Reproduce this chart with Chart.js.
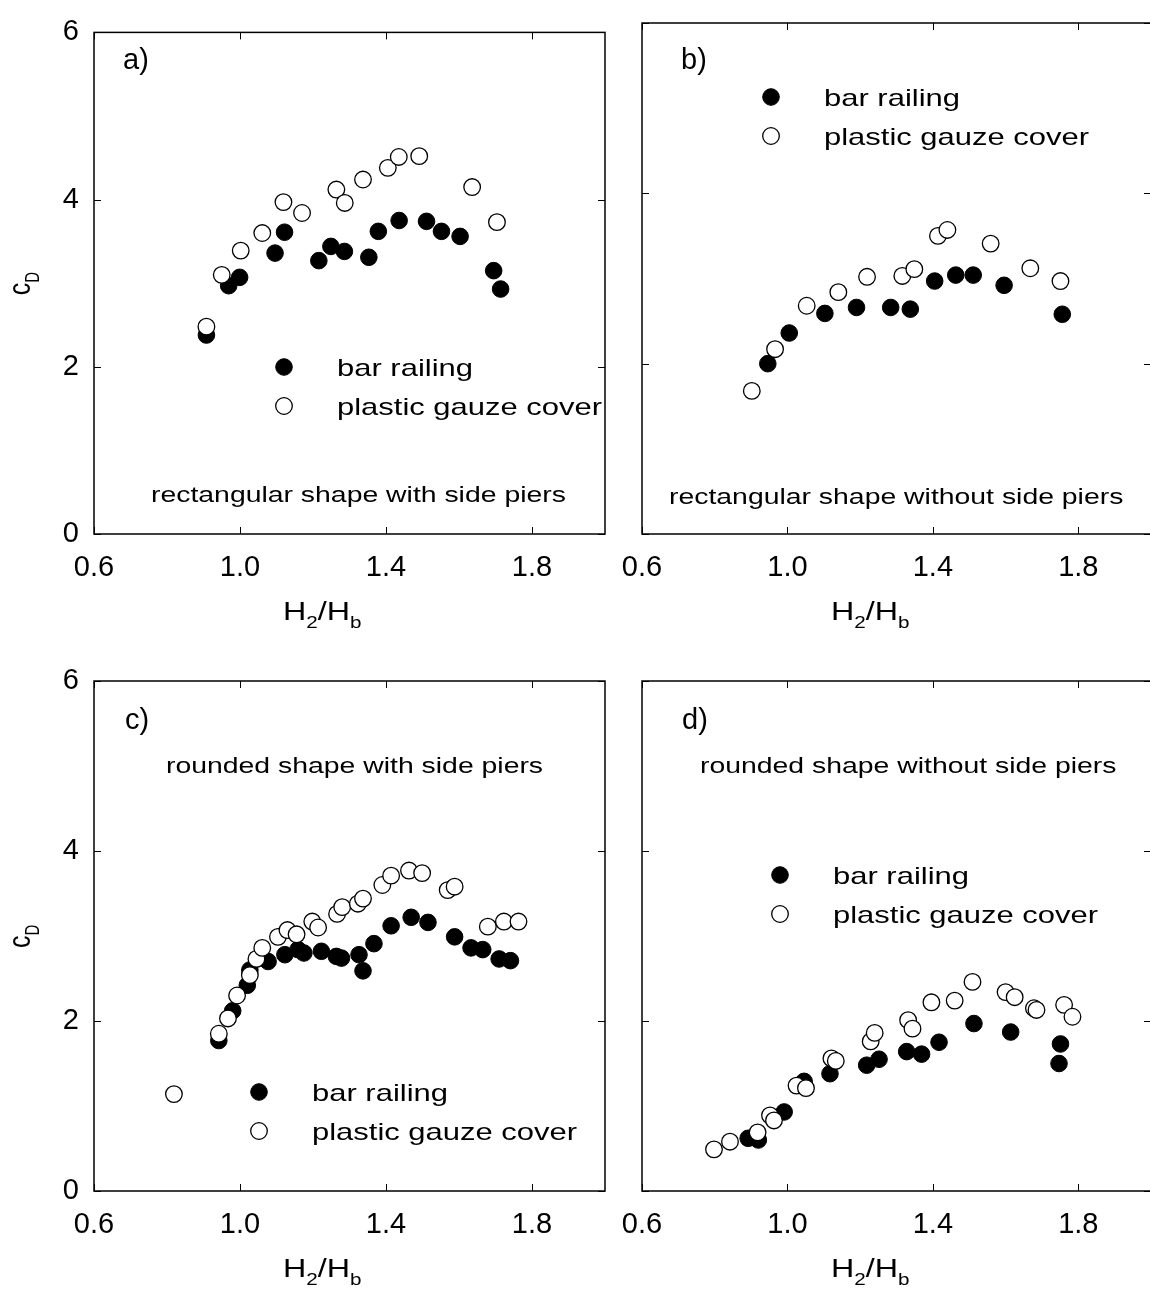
<!DOCTYPE html>
<html>
<head>
<meta charset="utf-8">
<script src="https://cdn.jsdelivr.net/npm/chart.js@4.4.1/dist/chart.umd.min.js"></script>
<style>
  html, body { margin: 0; padding: 0; background: #fff; overflow: hidden; }
  #wrap { position: relative; width: 1150px; height: 1289px; overflow: hidden; }
  canvas { position: absolute; }
</style>
</head>
<body>
<div id="wrap">
  <canvas id="pa"></canvas>
  <canvas id="pb"></canvas>
  <canvas id="pc"></canvas>
  <canvas id="pd"></canvas>
</div>
<script>
// axis ticks
const xTicks = [0.6, 1.0, 1.4, 1.8];
const yTicks = [0, 2, 4, 6];
const seriesNames = ['bar railing', 'plastic gauze cover'];
const panelTags = ['a)', 'b)', 'c)', 'd)'];
const panelNotes = [
    'rectangular shape with side piers',
    'rectangular shape without side piers',
    'rounded shape with side piers',
    'rounded shape without side piers'
];

// [H2/Hb, cD]
const barA = [[0.908, 2.38], [0.969, 2.97], [0.999, 3.07], [1.096, 3.36], [1.122, 3.61], [1.216, 3.27], [1.249, 3.44], [1.286, 3.38],
    [1.353, 3.31], [1.379, 3.62], [1.436, 3.75], [1.511, 3.74], [1.552, 3.62], [1.603, 3.56], [1.695, 3.15], [1.714, 2.93]];
const gauzeA = [[0.908, 2.48], [0.950, 3.10], [1.002, 3.39], [1.061, 3.60], [1.119, 3.97], [1.170, 3.84], [1.264, 4.12], [1.287, 3.96],
    [1.337, 4.24], [1.405, 4.38], [1.435, 4.51], [1.491, 4.52], [1.636, 4.15], [1.704, 3.73]];

const barB = [[0.946, 2.00], [1.005, 2.36], [1.103, 2.59], [1.190, 2.66], [1.284, 2.66], [1.338, 2.64], [1.405, 2.97], [1.463, 3.04],
    [1.511, 3.04], [1.596, 2.92], [1.756, 2.58]];
const gauzeB = [[0.902, 1.68], [0.966, 2.17], [1.053, 2.68], [1.140, 2.84], [1.219, 3.02], [1.316, 3.03], [1.349, 3.11], [1.414, 3.50],
    [1.440, 3.57], [1.559, 3.41], [1.668, 3.12], [1.751, 2.97]];

const barC = [[0.942, 1.77], [0.980, 2.12], [1.020, 2.42], [1.027, 2.60], [1.077, 2.70], [1.123, 2.78], [1.159, 2.84], [1.175, 2.80],
    [1.223, 2.82], [1.264, 2.76], [1.278, 2.74], [1.326, 2.78], [1.337, 2.59], [1.367, 2.91], [1.414, 3.12], [1.469, 3.22],
    [1.515, 3.16], [1.588, 2.99], [1.633, 2.86], [1.665, 2.84], [1.710, 2.73], [1.741, 2.71]];
const gauzeC = [[0.819, 1.14], [0.942, 1.85], [0.967, 2.03], [0.992, 2.30], [1.027, 2.54], [1.045, 2.73], [1.061, 2.86], [1.104, 2.99],
    [1.130, 3.07], [1.155, 3.02], [1.198, 3.17], [1.214, 3.10], [1.266, 3.26], [1.280, 3.34], [1.323, 3.38], [1.337, 3.44],
    [1.390, 3.60], [1.414, 3.71], [1.463, 3.77], [1.499, 3.74], [1.569, 3.54], [1.588, 3.58], [1.679, 3.11], [1.723, 3.17], [1.763, 3.17]];

const barD = [[0.892, 0.62], [0.920, 0.60], [0.991, 0.93], [1.046, 1.29], [1.117, 1.38], [1.218, 1.48], [1.252, 1.55], [1.328, 1.64],
    [1.369, 1.61], [1.417, 1.75], [1.513, 1.97], [1.614, 1.87], [1.751, 1.73], [1.747, 1.50]];
const gauzeD = [[0.798, 0.49], [0.842, 0.58], [0.918, 0.69], [0.952, 0.89], [0.963, 0.83], [1.025, 1.24], [1.051, 1.21], [1.121, 1.56],
    [1.133, 1.53], [1.229, 1.76], [1.240, 1.86], [1.332, 2.01], [1.344, 1.91], [1.396, 2.22], [1.460, 2.24], [1.509, 2.46],
    [1.600, 2.34], [1.625, 2.28], [1.678, 2.15], [1.685, 2.13], [1.761, 2.19], [1.784, 2.05]];

const FONT = '"Liberation Sans", Arial, Helvetica, sans-serif';
const SX = 1.29; // the original's text is stretched sideways

// page layout (pixels): canvas box, plot area, legend/tag/note spots
const panels = [
    { id: 'pa', bar: barA, gauze: gauzeA, box: [0, 0, 620, 645], area: [94, 23, 605, 534], yLabels: true,
      tag: [123, 69], legend: [284, 367], note: [151, 502] },
    { id: 'pb', bar: barB, gauze: gauzeB, box: [600, 0, 561, 645], area: [642, 23, 1151, 534], yLabels: false,
      tag: [681, 69], legend: [771, 97], note: [669, 504] },
    { id: 'pc', bar: barC, gauze: gauzeC, box: [0, 645, 620, 644], area: [94, 681, 605, 1191], yLabels: true,
      tag: [125, 729], legend: [259, 1092], note: [166, 773] },
    { id: 'pd', bar: barD, gauze: gauzeD, box: [600, 645, 561, 644], area: [642, 681, 1151, 1191], yLabels: false,
      tag: [682, 729], legend: [780, 875], note: [700, 773] }
];

function stretchedText(ctx, text, x, y, size) {
    ctx.save();
    ctx.font = size + 'px ' + FONT;
    ctx.translate(x, y);
    ctx.scale(SX, 1);
    ctx.fillText(text, 0, 0);
    const w = ctx.measureText(text).width * SX;
    ctx.restore();
    return w;
}

function drawMarker(ctx, x, y, filled) {
    ctx.beginPath();
    ctx.arc(x, y, 8.3, 0, Math.PI * 2);
    ctx.fillStyle = filled ? '#000' : '#fff';
    ctx.fill();
    ctx.lineWidth = filled ? 1 : 1.3;
    ctx.strokeStyle = '#000';
    ctx.stroke();
}

function makeChart(p, idx) {
    const [bx, by, bw, bh] = p.box;
    const [al, at, ar, ab] = p.area;
    const el = document.getElementById(p.id);
    el.width = bw;
    el.height = bh;
    el.style.left = bx + 'px';
    el.style.top = by + 'px';

    const framePlugin = {
        id: 'frame',
        beforeDatasetsDraw(chart) {
            const { ctx, chartArea: ca, scales } = chart;
            ctx.save();
            ctx.strokeStyle = '#000';
            ctx.lineWidth = 1;
            xTicks.forEach(v => {
                const px = Math.round(scales.x.getPixelForValue(v)) + 0.5;
                ctx.beginPath();
                ctx.moveTo(px, ca.bottom); ctx.lineTo(px, ca.bottom - 7);
                ctx.moveTo(px, ca.top); ctx.lineTo(px, ca.top + 7);
                ctx.stroke();
            });
            yTicks.forEach(v => {
                const py = Math.round(scales.y.getPixelForValue(v)) + 0.5;
                ctx.beginPath();
                ctx.moveTo(ca.left, py); ctx.lineTo(ca.left + 7, py);
                ctx.moveTo(ca.right, py); ctx.lineTo(ca.right - 7, py);
                ctx.stroke();
            });
            ctx.lineWidth = 1.5;
            ctx.strokeRect(ca.left, ca.top, ca.right - ca.left, ca.bottom - ca.top);
            ctx.restore();
        },
        afterDraw(chart) {
            const { ctx, chartArea: ca } = chart;
            ctx.save();
            ctx.fillStyle = '#000';
            ctx.textBaseline = 'alphabetic';
            ctx.textAlign = 'left';

            // panel tag
            ctx.font = '29px ' + FONT;
            ctx.fillText(panelTags[idx], p.tag[0] - bx, p.tag[1] - by);

            // shape note
            stretchedText(ctx, panelNotes[idx], p.note[0] - bx, p.note[1] - by, 22);

            // legend
            const lx = p.legend[0] - bx, ly = p.legend[1] - by;
            drawMarker(ctx, lx, ly, true);
            drawMarker(ctx, lx, ly + 39, false);
            ctx.fillStyle = '#000';
            stretchedText(ctx, seriesNames[0], lx + 53, ly + 9, 24);
            stretchedText(ctx, seriesNames[1], lx + 53, ly + 48, 24);

            // x title H2/Hb
            let tx = ca.left + 189;
            const ty = ca.bottom + 86;
            tx += stretchedText(ctx, 'H', tx, ty, 25);
            tx += stretchedText(ctx, '2', tx, ty + 8, 16);
            tx += stretchedText(ctx, '/', tx, ty, 25);
            tx += stretchedText(ctx, 'H', tx, ty, 25);
            stretchedText(ctx, 'b', tx, ty + 8, 16);

            // y title cD (left panels only)
            if (p.yLabels) {
                const cy = (ca.top + ca.bottom) / 2;
                ctx.save();
                ctx.translate(30 - bx, cy + 12);
                ctx.rotate(-Math.PI / 2);
                ctx.scale(1, SX);
                ctx.font = '25px ' + FONT;
                ctx.fillText('c', 0, 0);
                const wc = ctx.measureText('c').width;
                ctx.font = '15px ' + FONT;
                ctx.fillText('D', wc, 7.2);
                ctx.restore();
            }
            ctx.restore();
        }
    };

    return new Chart(el.getContext('2d'), {
        type: 'scatter',
        data: {
            datasets: [
                {
                    label: seriesNames[1],
                    data: p.gauze.map(d => ({ x: d[0], y: d[1] })),
                    pointRadius: 8.3,
                    pointHoverRadius: 8.3,
                    pointBackgroundColor: '#fff',
                    pointBorderColor: '#000',
                    pointBorderWidth: 1.3
                },
                {
                    label: seriesNames[0],
                    data: p.bar.map(d => ({ x: d[0], y: d[1] })),
                    pointRadius: 8.3,
                    pointHoverRadius: 8.3,
                    pointBackgroundColor: '#000',
                    pointBorderColor: '#000',
                    pointBorderWidth: 1
                }
            ]
        },
        options: {
            responsive: false,
            animation: false,
            events: [],
            layout: { padding: { left: 0, top: at - by, right: bx + bw - ar, bottom: 0 } },
            plugins: { legend: { display: false }, tooltip: { enabled: false } },
            scales: {
                x: {
                    type: 'linear',
                    min: 0.6,
                    max: 2.0,
                    afterBuildTicks: s => { s.ticks = xTicks.map(v => ({ value: v })); },
                    afterFit: s => { s.height = by + bh - ab; },
                    grid: { display: false, drawTicks: false },
                    border: { display: false },
                    ticks: {
                        autoSkip: false, maxRotation: 0, padding: 17, color: '#000',
                        font: { family: FONT, size: 29 },
                        callback: v => Number(v).toFixed(1)
                    }
                },
                y: {
                    type: 'linear',
                    min: 0,
                    max: 6,
                    afterBuildTicks: s => { s.ticks = yTicks.map(v => ({ value: v })); },
                    afterFit: s => { s.width = al - bx; },
                    grid: { display: false, drawTicks: false },
                    border: { display: false },
                    ticks: {
                        display: p.yLabels, padding: 15, color: '#000',
                        font: { family: FONT, size: 29 },
                        callback: v => String(v)
                    }
                }
            }
        },
        plugins: [framePlugin]
    });
}

panels.forEach((p, i) => makeChart(p, i));
</script>
</body>
</html>
